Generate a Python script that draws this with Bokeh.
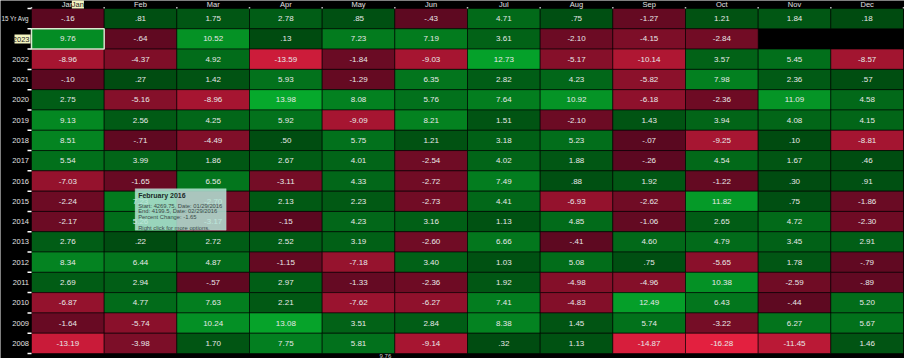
from bokeh.plotting import figure
from bokeh.models import ColumnDataSource, LinearColorMapper, Range1d, BoxAnnotation, Label
from bokeh.core.properties import value
from bokeh.embed import file_html
from bokeh.resources import INLINE

# ---------------- data ----------------
months = ["Jan", "Feb", "Mar", "Apr", "May", "Jun", "Jul", "Aug", "Sep", "Oct", "Nov", "Dec"]
row_labels = ["15 Yr Avg", "2023", "2022", "2021", "2020", "2019", "2018", "2017", "2016",
              "2015", "2014", "2013", "2012", "2011", "2010", "2009", "2008"]

avg_15yr = [-0.16, 0.81, 1.75, 2.78, 0.85, -0.43, 4.71, 0.75, -1.27, 1.21, 1.84, 0.18]
y2023 = [9.76, -0.64, 10.52, 0.13, 7.23, 7.19, 3.61, -2.10, -4.15, -2.84, None, None]
y2022 = [-8.96, -4.37, 4.92, -13.59, -1.84, -9.03, 12.73, -5.17, -10.14, 3.57, 5.45, -8.57]
y2021 = [-0.10, 0.27, 1.42, 5.93, -1.29, 6.35, 2.82, 4.23, -5.82, 7.98, 2.36, 0.57]
y2020 = [2.75, -5.16, -8.96, 13.98, 8.08, 5.76, 7.64, 10.92, -6.18, -2.36, 11.09, 4.58]
y2019 = [9.13, 2.56, 4.25, 5.92, -9.09, 8.21, 1.51, -2.10, 1.43, 3.94, 4.08, 4.15]
y2018 = [8.51, -0.71, -4.49, 0.50, 5.75, 1.21, 3.18, 5.23, -0.07, -9.25, 0.10, -8.81]
y2017 = [5.54, 3.99, 1.86, 2.67, 4.01, -2.54, 4.02, 1.88, -0.26, 4.54, 1.67, 0.46]
y2016 = [-7.03, -1.65, 6.56, -3.11, 4.33, -2.72, 7.49, 0.88, 1.92, -1.22, 0.30, 0.91]
y2015 = [-2.24, 7.23, -2.70, 2.13, 2.23, -2.73, 4.41, -6.93, -2.62, 11.82, 0.75, -1.86]
y2014 = [-2.17, 5.26, -3.17, -0.15, 4.23, 3.16, 1.13, 4.85, -1.06, 2.65, 4.72, -2.30]
y2013 = [2.76, 0.22, 2.72, 2.52, 3.19, -2.60, 6.66, -0.41, 4.60, 4.79, 3.45, 2.91]
y2012 = [8.34, 6.44, 4.87, -1.15, -7.18, 3.40, 1.03, 5.08, 0.75, -5.65, 1.78, -0.79]
y2011 = [2.69, 2.94, -0.57, 2.97, -1.33, -2.36, 1.92, -4.98, -4.96, 10.38, -2.59, -0.89]
y2010 = [-6.87, 4.77, 7.63, 2.21, -7.62, -6.27, 7.41, -4.83, 12.49, 6.43, -0.44, 5.20]
y2009 = [-1.64, -5.74, 10.24, 13.08, 3.51, 2.84, 8.38, 1.45, 5.74, -3.22, 6.27, 5.67]
y2008 = [-13.19, -3.98, 1.70, 7.75, 5.81, -9.14, 0.32, 1.13, -14.87, -16.28, -11.45, 1.46]

rows = [avg_15yr, y2023, y2022, y2021, y2020, y2019, y2018, y2017, y2016,
        y2015, y2014, y2013, y2012, y2011, y2010, y2009, y2008]

tooltip_title = "February 2016"
tooltip_lines = ["Start: 4269.75, Date: 01/29/2016",
                 "End: 4199.5, Date: 02/29/2016",
                 "Percent Change: -1.65",
                 "",
                 "Right click for more options."]
crosshair_value = "9.76"
selected_row, selected_month = "2023", "Jan"

# ---------------- layout ----------------
W, H = 904, 358
LEFT_PX, RIGHT_PX, TOP_PX, BOTTOM_PX = 31, 1, 8, 5
n_cols, n_rows = len(months), len(row_labels)
col_w = (W - LEFT_PX - RIGHT_PX) / n_cols
row_h = (H - TOP_PX - BOTTOM_PX) / n_rows
FONT = value("Liberation Sans")


def fmt(v):
    s = f"{v:.2f}"
    if s.startswith("0."):
        s = s[1:]
    elif s.startswith("-0."):
        s = "-" + s[2:]
    return s


def hex2rgb(h):
    h = h.lstrip("#")
    return tuple(int(h[i:i + 2], 16) for i in (0, 2, 4))


def lerp(c0, c1, t):
    a, b = hex2rgb(c0), hex2rgb(c1)
    return "#%02x%02x%02x" % tuple(int(round(a[i] + (b[i] - a[i]) * t)) for i in range(3))


NEG_LO, NEG_HI = "#5a0820", "#e3203f"
POS_LO, POS_HI = "#004a10", "#06a92c"
low, high = -16.3, 14.0
N = 400
palette = []
for i in range(N):
    v = low + (i + 0.5) * (high - low) / N
    if v < 0:
        palette.append(lerp(NEG_LO, NEG_HI, min(-v / -low, 1.0)))
    else:
        palette.append(lerp(POS_LO, POS_HI, min(v / high, 1.0)))
mapper = LinearColorMapper(palette=palette, low=low, high=high)

xs, ys, vals, txt = [], [], [], []
for r, (lab, row) in enumerate(zip(row_labels, rows)):
    for c, v in enumerate(row):
        if v is None:
            continue
        xs.append(c + 0.5)
        ys.append(n_rows - r - 0.5)
        vals.append(v)
        txt.append(fmt(v))
src = ColumnDataSource(dict(x=xs, y=ys, v=vals, t=txt))

p = figure(width=W, height=H, output_backend="svg", toolbar_location=None,
           x_axis_location=None, y_axis_location=None,
           x_range=Range1d(-LEFT_PX / col_w, n_cols + RIGHT_PX / col_w),
           y_range=Range1d(-BOTTOM_PX / row_h, n_rows + TOP_PX / row_h),
           min_border=0, background_fill_color="black", border_fill_color="black")
p.outline_line_color = None
p.grid.visible = False

p.rect(x="x", y="y", width=1, height=1, source=src,
       fill_color={"field": "v", "transform": mapper},
       line_color="black", line_alpha=0.55, line_width=1)
p.text(x="x", y="y", text="t", source=src, text_align="center", text_baseline="middle",
       text_font=FONT, text_font_size="8px", text_color="#e8e8e8")

# selected cell
sel_r = row_labels.index(selected_row)
sel_c = months.index(selected_month)
p.rect(x=[sel_c + 0.5], y=[n_rows - sel_r - 0.5], width=1, height=1, fill_color=None,
       line_color="#d8ecd0", line_width=1.5)

# row labels (the selected row's label is shown as a highlighted crosshair label)
lab_idx = [r for r in range(n_rows) if r != sel_r]
lab_src = ColumnDataSource(dict(
    x=[-2.5 / col_w] * len(lab_idx),
    y=[n_rows - r - 0.5 for r in lab_idx],
    t=[row_labels[r] for r in lab_idx],
    s=["6.3px" if len(row_labels[r]) > 4 else "7.5px" for r in lab_idx]))
p.text(x="x", y="y", text="t", source=lab_src, text_font_size="s",
       text_align="right", text_baseline="middle", text_font=FONT, text_color="#e0e0e0")
# month labels
hdr_y = n_rows + (TOP_PX / 2) / row_h
p.text(x=[c + 0.5 for c in range(n_cols)], y=[hdr_y] * n_cols, text=months,
       text_align="center", text_baseline="middle", text_font=FONT, text_font_size="7.5px",
       text_color="#e0e0e0")

# tick marks
p.segment(x0=[-4 / col_w] * (n_rows + 1), x1=[0] * (n_rows + 1),
          y0=list(range(n_rows + 1)), y1=list(range(n_rows + 1)),
          line_color="white", line_width=1.5)
p.segment(x0=list(range(n_cols + 1)), x1=list(range(n_cols + 1)),
          y0=[n_rows] * (n_cols + 1), y1=[n_rows + 1.5 / row_h] * (n_cols + 1),
          line_color="#bbbbbb", line_width=1.5)

# crosshair highlight labels
p.add_layout(BoxAnnotation(left=-17 / col_w, right=-1 / col_w,
                           bottom=n_rows - sel_r - 0.5 - 4.5 / row_h,
                           top=n_rows - sel_r - 0.5 + 4.5 / row_h,
                           fill_color="#f4f4c0", fill_alpha=1.0, line_color=None))
p.add_layout(Label(x=-2 / col_w, y=n_rows - sel_r - 0.5, y_offset=-3.5, text=selected_row,
                   text_font="Liberation Sans", text_font_size="7.5px",
                   text_color="#222222", text_align="right", text_baseline="bottom"))
p.add_layout(Label(x=sel_c + 0.5, y=hdr_y, x_offset=4, y_offset=-4, text=selected_month,
                   text_font="Liberation Sans", text_font_size="7.5px",
                   text_color="#222222", background_fill_color="#f4f4c0",
                   text_baseline="bottom"))
p.add_layout(Label(x=4.87, y=-BOTTOM_PX / row_h, y_offset=0.5, text=crosshair_value,
                   text_font="Liberation Sans", text_font_size="6px", text_color="#cccccc",
                   text_align="center", text_baseline="bottom"))

# tooltip
ax = months.index("Feb")
ay = n_rows - row_labels.index("2016") - 1  # bottom of 2016 row
box_l, box_r = ax + 31 / col_w, ax + 122 / col_w
box_t, box_b = ay + 2.5 / row_h, ay - 39 / row_h
p.add_layout(BoxAnnotation(left=box_l, right=box_r, top=box_t, bottom=box_b,
                           fill_color="#b4e6d8", fill_alpha=0.85, line_color="#cfeee6",
                           line_width=1))
p.add_layout(Label(x=box_l, y=box_t, x_offset=3, y_offset=-10, text=tooltip_title,
                   text_font="Liberation Sans", text_font_size="7px", text_font_style="bold",
                   text_color="#1c2a28", text_baseline="bottom"))
for i, line in enumerate(tooltip_lines):
    p.add_layout(Label(x=box_l, y=box_t, x_offset=3, y_offset=-20 - 5.5 * i, text=line,
                       text_font="Liberation Sans", text_font_size="5.8px",
                       text_color="#3a4a48", text_baseline="bottom"))

open("out.html", "w").write(file_html(p, INLINE))
